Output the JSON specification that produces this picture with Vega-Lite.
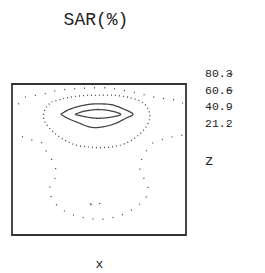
{
  "$schema": "https://vega.github.io/schema/vega-lite/v6.json",
  "width": 174,
  "height": 151,
  "autosize": {"type": "none"},
  "padding": {"left": 12, "top": 84, "right": 79, "bottom": 38},
  "background": "white",
  "title": {"text": "SAR(%)", "font": "Liberation Mono", "fontSize": 18, "fontWeight": "normal", "color": "#222", "anchor": "middle", "frame": "group", "baseline": "alphabetic", "offset": 42, "dx": -3, "dy": 17},
  "config": {"view": {"stroke": "#333", "strokeWidth": 1.8}},
  "data": {"values": [
    {"z": "80.3", "p": "a", "i": 0, "x": 0.362, "y": 0.799},
    {"z": "80.3", "p": "a", "i": 1, "x": 0.402, "y": 0.816},
    {"z": "80.3", "p": "a", "i": 2, "x": 0.448, "y": 0.826},
    {"z": "80.3", "p": "a", "i": 3, "x": 0.494, "y": 0.831},
    {"z": "80.3", "p": "a", "i": 4, "x": 0.571, "y": 0.821},
    {"z": "80.3", "p": "a", "i": 5, "x": 0.625, "y": 0.799},
    {"z": "80.3", "p": "a", "i": 6, "x": 0.571, "y": 0.781},
    {"z": "80.3", "p": "a", "i": 7, "x": 0.494, "y": 0.773},
    {"z": "80.3", "p": "a", "i": 8, "x": 0.448, "y": 0.778},
    {"z": "80.3", "p": "a", "i": 9, "x": 0.402, "y": 0.788},
    {"z": "80.3", "p": "a", "i": 10, "x": 0.362, "y": 0.799},

    {"z": "60.6", "p": "b", "i": 0, "x": 0.280, "y": 0.799},
    {"z": "60.6", "p": "b", "i": 1, "x": 0.322, "y": 0.828},
    {"z": "60.6", "p": "b", "i": 2, "x": 0.372, "y": 0.848},
    {"z": "60.6", "p": "b", "i": 3, "x": 0.448, "y": 0.866},
    {"z": "60.6", "p": "b", "i": 4, "x": 0.494, "y": 0.868},
    {"z": "60.6", "p": "b", "i": 5, "x": 0.571, "y": 0.863},
    {"z": "60.6", "p": "b", "i": 6, "x": 0.638, "y": 0.836},
    {"z": "60.6", "p": "b", "i": 7, "x": 0.695, "y": 0.799},
    {"z": "60.6", "p": "b", "i": 8, "x": 0.657, "y": 0.775},
    {"z": "60.6", "p": "b", "i": 9, "x": 0.590, "y": 0.737},
    {"z": "60.6", "p": "b", "i": 10, "x": 0.494, "y": 0.712},
    {"z": "60.6", "p": "b", "i": 11, "x": 0.448, "y": 0.715},
    {"z": "60.6", "p": "b", "i": 12, "x": 0.372, "y": 0.748},
    {"z": "60.6", "p": "b", "i": 13, "x": 0.322, "y": 0.772},
    {"z": "60.6", "p": "b", "i": 14, "x": 0.280, "y": 0.799},

    {"z": "40.9", "p": "c", "i": 0, "x": 0.228, "y": 0.881},
    {"z": "40.9", "p": "c", "i": 1, "x": 0.295, "y": 0.903},
    {"z": "40.9", "p": "c", "i": 2, "x": 0.372, "y": 0.919},
    {"z": "40.9", "p": "c", "i": 3, "x": 0.448, "y": 0.925},
    {"z": "40.9", "p": "c", "i": 4, "x": 0.494, "y": 0.925},
    {"z": "40.9", "p": "c", "i": 5, "x": 0.590, "y": 0.925},
    {"z": "40.9", "p": "c", "i": 6, "x": 0.686, "y": 0.907},
    {"z": "40.9", "p": "c", "i": 7, "x": 0.753, "y": 0.876},
    {"z": "40.9", "p": "c", "i": 8, "x": 0.786, "y": 0.826},
    {"z": "40.9", "p": "c", "i": 9, "x": 0.791, "y": 0.770},
    {"z": "40.9", "p": "c", "i": 10, "x": 0.763, "y": 0.704},
    {"z": "40.9", "p": "c", "i": 11, "x": 0.714, "y": 0.649},
    {"z": "40.9", "p": "c", "i": 12, "x": 0.648, "y": 0.605},
    {"z": "40.9", "p": "c", "i": 13, "x": 0.571, "y": 0.583},
    {"z": "40.9", "p": "c", "i": 14, "x": 0.494, "y": 0.578},
    {"z": "40.9", "p": "c", "i": 15, "x": 0.448, "y": 0.583},
    {"z": "40.9", "p": "c", "i": 16, "x": 0.372, "y": 0.594},
    {"z": "40.9", "p": "c", "i": 17, "x": 0.305, "y": 0.627},
    {"z": "40.9", "p": "c", "i": 18, "x": 0.237, "y": 0.682},
    {"z": "40.9", "p": "c", "i": 19, "x": 0.190, "y": 0.748},
    {"z": "40.9", "p": "c", "i": 20, "x": 0.180, "y": 0.793},
    {"z": "40.9", "p": "c", "i": 21, "x": 0.199, "y": 0.848},
    {"z": "40.9", "p": "c", "i": 22, "x": 0.228, "y": 0.881},

    {"z": "21.2", "p": "d", "i": 0, "x": 0.000, "y": 0.815},
    {"z": "21.2", "p": "d", "i": 1, "x": 0.029, "y": 0.854},
    {"z": "21.2", "p": "d", "i": 2, "x": 0.065, "y": 0.909},
    {"z": "21.2", "p": "d", "i": 3, "x": 0.122, "y": 0.921},
    {"z": "21.2", "p": "d", "i": 4, "x": 0.190, "y": 0.936},
    {"z": "21.2", "p": "d", "i": 5, "x": 0.247, "y": 0.954},
    {"z": "21.2", "p": "d", "i": 6, "x": 0.314, "y": 0.965},
    {"z": "21.2", "p": "d", "i": 7, "x": 0.381, "y": 0.969},
    {"z": "21.2", "p": "d", "i": 8, "x": 0.448, "y": 0.974},
    {"z": "21.2", "p": "d", "i": 9, "x": 0.552, "y": 0.974},
    {"z": "21.2", "p": "d", "i": 10, "x": 0.638, "y": 0.958},
    {"z": "21.2", "p": "d", "i": 11, "x": 0.734, "y": 0.936},
    {"z": "21.2", "p": "d", "i": 12, "x": 0.810, "y": 0.914},
    {"z": "21.2", "p": "d", "i": 13, "x": 0.878, "y": 0.903},
    {"z": "21.2", "p": "d", "i": 14, "x": 0.975, "y": 0.881},
    {"z": "21.2", "p": "d", "i": 15, "x": 1.000, "y": 0.821},

    {"z": "21.2", "p": "e", "i": 0, "x": 0.000, "y": 0.662},
    {"z": "21.2", "p": "e", "i": 1, "x": 0.065, "y": 0.649},
    {"z": "21.2", "p": "e", "i": 2, "x": 0.122, "y": 0.627},
    {"z": "21.2", "p": "e", "i": 3, "x": 0.180, "y": 0.605},
    {"z": "21.2", "p": "e", "i": 4, "x": 0.199, "y": 0.550},
    {"z": "21.2", "p": "e", "i": 5, "x": 0.234, "y": 0.488},
    {"z": "21.2", "p": "e", "i": 6, "x": 0.253, "y": 0.424},
    {"z": "21.2", "p": "e", "i": 7, "x": 0.243, "y": 0.364},
    {"z": "21.2", "p": "e", "i": 8, "x": 0.213, "y": 0.305},
    {"z": "21.2", "p": "e", "i": 9, "x": 0.230, "y": 0.242},
    {"z": "21.2", "p": "e", "i": 10, "x": 0.270, "y": 0.183},
    {"z": "21.2", "p": "e", "i": 11, "x": 0.324, "y": 0.146},
    {"z": "21.2", "p": "e", "i": 12, "x": 0.381, "y": 0.123},
    {"z": "21.2", "p": "e", "i": 13, "x": 0.439, "y": 0.111},
    {"z": "21.2", "p": "e", "i": 14, "x": 0.494, "y": 0.103},
    {"z": "21.2", "p": "e", "i": 15, "x": 0.561, "y": 0.111},
    {"z": "21.2", "p": "e", "i": 16, "x": 0.624, "y": 0.130},
    {"z": "21.2", "p": "e", "i": 17, "x": 0.681, "y": 0.161},
    {"z": "21.2", "p": "e", "i": 18, "x": 0.730, "y": 0.201},
    {"z": "21.2", "p": "e", "i": 19, "x": 0.770, "y": 0.248},
    {"z": "21.2", "p": "e", "i": 20, "x": 0.783, "y": 0.310},
    {"z": "21.2", "p": "e", "i": 21, "x": 0.760, "y": 0.371},
    {"z": "21.2", "p": "e", "i": 22, "x": 0.734, "y": 0.437},
    {"z": "21.2", "p": "e", "i": 23, "x": 0.744, "y": 0.498},
    {"z": "21.2", "p": "e", "i": 24, "x": 0.770, "y": 0.552},
    {"z": "21.2", "p": "e", "i": 25, "x": 0.806, "y": 0.606},
    {"z": "21.2", "p": "e", "i": 26, "x": 0.874, "y": 0.636},
    {"z": "21.2", "p": "e", "i": 27, "x": 0.937, "y": 0.654},
    {"z": "21.2", "p": "e", "i": 28, "x": 1.000, "y": 0.662},

    {"z": "21.2", "p": "f", "i": 0, "x": 0.448, "y": 0.205},
    {"z": "21.2", "p": "f", "i": 1, "x": 0.463, "y": 0.215},
    {"z": "21.2", "p": "f", "i": 2, "x": 0.477, "y": 0.219},
    {"z": "21.2", "p": "f", "i": 3, "x": 0.494, "y": 0.215},
    {"z": "21.2", "p": "f", "i": 4, "x": 0.506, "y": 0.205},
    {"z": "21.2", "p": "f", "i": 5, "x": 0.491, "y": 0.197},
    {"z": "21.2", "p": "f", "i": 6, "x": 0.477, "y": 0.195},
    {"z": "21.2", "p": "f", "i": 7, "x": 0.463, "y": 0.197},
    {"z": "21.2", "p": "f", "i": 8, "x": 0.448, "y": 0.205}
  ]},
  "mark": {"type": "line", "strokeWidth": 1.3, "color": "#444", "interpolate": "catmull-rom"},
  "encoding": {
    "x": {"field": "x", "type": "quantitative", "scale": {"domain": [0, 1], "nice": false, "zero": false},
      "axis": {"title": "x", "ticks": false, "labels": false, "domain": false, "grid": false, "titleFont": "Liberation Mono", "titleFontSize": 13, "titleFontWeight": "normal", "titleColor": "#222", "titlePadding": 22}},
    "y": {"field": "y", "type": "quantitative", "scale": {"domain": [0, 1], "nice": false, "zero": false}, "axis": null},
    "strokeDash": {"field": "z", "type": "nominal",
      "scale": {"domain": ["80.3", "60.6", "40.9", "21.2"], "range": [[1, 0], [1, 0], [1, 3], [1, 9]]},
      "legend": {"title": "z", "orient": "none", "legendX": 193, "legendY": -16, "padding": 0,
        "titleOrient": "bottom", "titleAnchor": "start", "titleAlign": "left", "titlePadding": 24,
        "titleFont": "Liberation Mono", "titleFontSize": 14, "titleFontWeight": "normal", "titleColor": "#222",
        "labelFont": "Liberation Mono", "labelFontSize": 11.5, "labelColor": "#222", "labelAlign": "left",
        "labelOffset": -47.667, "symbolOffset": 21.667, "symbolSize": 625, "symbolType": "stroke",
        "symbolStrokeWidth": 1, "symbolStrokeColor": "#444", "clipHeight": 12, "rowPadding": 4.5}},
    "detail": {"field": "p"},
    "order": {"field": "i", "type": "quantitative"}
  }
}
